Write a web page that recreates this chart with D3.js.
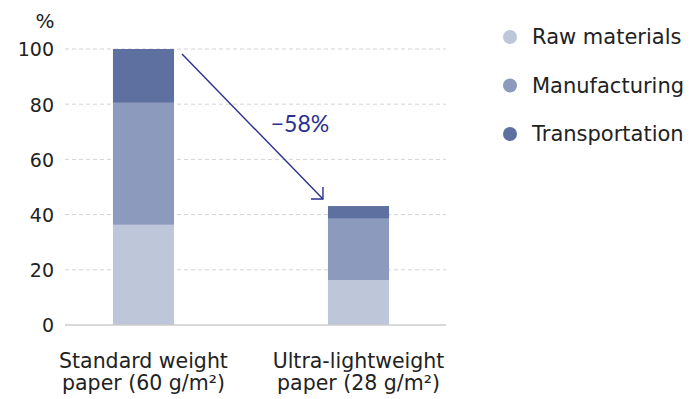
<!DOCTYPE html>
<html>
<head>
<meta charset="utf-8">
<script src="https://cdn.jsdelivr.net/npm/d3@7"></script>
<style>
  body { margin: 0; background: #fff; }
  svg text { font-family: "DejaVu Sans", sans-serif; fill: #222; }
</style>
</head>
<body>
<div id="chart"></div>
<script>
// data
const categories = ['standard', 'ultra'];
const categoryLines = [
  ['Standard weight', 'paper (60 g/m\u00b2)'],
  ['Ultra-lightweight', 'paper (28 g/m\u00b2)']
];
const seriesNames = ['Raw materials', 'Manufacturing', 'Transportation'];
const rawMaterials = [36.3, 16.3];
const manufacturing = [44.2, 22.2];
const transportation = [19.5, 4.6];
const yTicks = [0, 20, 40, 60, 80, 100];
const changeLabel = '\u221258%';

const colors = ['#bec6da', '#8c9bbd', '#5d70a0'];
const arrowColor = '#2b2f8e';

const width = 692, height = 399;

const svg = d3.select('#chart')
  .append('svg')
  .attr('width', width)
  .attr('height', height);

const y = d3.scaleLinear().domain([0, 100]).range([325, 49]);
const x = d3.scaleBand()
  .domain(categories)
  .range([65, 446])
  .paddingInner(0.716)
  .paddingOuter(0.244)
  .align(0.457);

const rows = categories.map((c, i) => ({
  cat: c,
  'Raw materials': rawMaterials[i],
  'Manufacturing': manufacturing[i],
  'Transportation': transportation[i]
}));
const stacked = d3.stack().keys(seriesNames)(rows);

// grid
const grid = svg.append('g');
grid.selectAll('line')
  .data(yTicks.filter(t => t > 0))
  .enter().append('line')
  .attr('x1', 65).attr('x2', 446)
  .attr('y1', d => y(d)).attr('y2', d => y(d))
  .attr('stroke', '#d4d4d4')
  .attr('stroke-width', 1)
  .attr('stroke-dasharray', '4,3');

// y axis labels
const yAxis = svg.append('g')
  .attr('transform', 'translate(54,0)')
  .call(d3.axisLeft(y).tickValues(yTicks).tickSize(0).tickPadding(0));
yAxis.select('.domain').remove();
yAxis.selectAll('text')
  .attr('font-size', 19)
  .attr('font-family', '"DejaVu Sans", sans-serif')
  .attr('fill', '#222')
  .attr('dy', '0.36em');

svg.append('text')
  .attr('x', 45).attr('y', 28)
  .attr('text-anchor', 'middle')
  .attr('font-size', 20)
  .text('%');

// bars
svg.append('g')
  .selectAll('g')
  .data(stacked)
  .enter().append('g')
  .attr('fill', (d, i) => colors[i])
  .selectAll('rect')
  .data(d => d)
  .enter().append('rect')
  .attr('x', d => x(d.data.cat))
  .attr('y', d => y(d[1]))
  .attr('width', x.bandwidth())
  .attr('height', d => y(d[0]) - y(d[1]));

// baseline
svg.append('line')
  .attr('x1', 65).attr('x2', 446)
  .attr('y1', y(0)).attr('y2', y(0))
  .attr('stroke', '#cccccc')
  .attr('stroke-width', 1.5);

// category labels, two lines each
const catLabels = svg.append('g')
  .selectAll('text')
  .data(categories)
  .enter().append('text')
  .attr('text-anchor', 'middle')
  .attr('font-size', 20.5)
  .attr('x', d => x(d) + x.bandwidth() / 2)
  .attr('y', 368);
catLabels.selectAll('tspan')
  .data((d, i) => categoryLines[i].map(line => ({cat: d, line})))
  .enter().append('tspan')
  .attr('x', d => x(d.cat) + x.bandwidth() / 2)
  .attr('dy', (d, j) => j === 0 ? 0 : 22)
  .text(d => d.line);

// change arrow
const total0 = rawMaterials[0] + manufacturing[0] + transportation[0];
const total1 = rawMaterials[1] + manufacturing[1] + transportation[1];
const x0 = x(categories[0]) + x.bandwidth() + 8, y0 = y(total0) + 5;
const x1 = x(categories[1]) - 5, y1 = y(total1) - 7;

svg.append('line')
  .attr('x1', x0).attr('y1', y0)
  .attr('x2', x1).attr('y2', y1)
  .attr('stroke', arrowColor)
  .attr('stroke-width', 1.4);
svg.append('path')
  .attr('d', `M${x1 - 12},${y1} L${x1},${y1} L${x1},${y1 - 12}`)
  .attr('fill', 'none')
  .attr('stroke', arrowColor)
  .attr('stroke-width', 1.4);

svg.append('text')
  .attr('x', 300).attr('y', 132)
  .attr('text-anchor', 'middle')
  .attr('font-size', 23)
  .style('font-family', 'Lato, sans-serif')
  .style('fill', arrowColor)
  .text(changeLabel);

// legend
const legend = svg.append('g')
  .selectAll('g')
  .data(seriesNames)
  .enter().append('g')
  .attr('transform', (d, i) => `translate(510,${37 + i * 48.5})`);
legend.append('circle')
  .attr('r', 7)
  .attr('fill', (d, i) => colors[i]);
legend.append('text')
  .attr('x', 22)
  .attr('dy', '0.35em')
  .attr('font-size', 21)
  .text(d => d);
</script>
</body>
</html>
